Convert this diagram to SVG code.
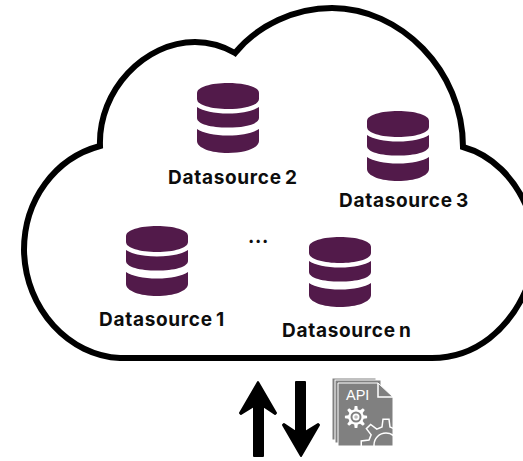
<svg xmlns="http://www.w3.org/2000/svg" width="523" height="461" viewBox="0 0 523 461">
<style>
.lbl{font-family:"Inter","Liberation Sans",sans-serif;font-weight:700;font-size:19px;letter-spacing:.7px;word-spacing:-2px;fill:#0d0d0d}
.db{fill:#521a4a}
.arrow{fill:#000;stroke:#000;stroke-width:2;stroke-linejoin:round}
.page{fill:#808080;stroke:#fff;stroke-width:1}
</style>
<defs>
<g id="dbicon">
<path class="db" d="M0 10C0 4 14 0 31 0S62 4 62 10V16C62 22 48 26 31 26S0 22 0 16Z"/>
<path class="db" d="M0 24C6 28 17 30.500 31 30.500S56 28 62 24V35C62 41 48 44.600 31 44.600S0 41 0 35Z"/>
<path class="db" d="M0 46C6 50 17 52.500 31 52.500S56 50 62 46V58C62 65 48 70 31 70S0 65 0 58Z"/>
</g>
<path id="gear" d="M-3.200-13.600L-2.400-19.800H2.400L3.200-13.600L7.350-11.880L12.300-15.700L15.700-12.300L11.880-7.350L13.600-3.200L19.800-2.400V2.400L13.600 3.200L11.880 7.350L15.700 12.300L12.300 15.700L7.350 11.880L3.200 13.600L2.400 19.800H-2.400L-3.200 13.600L-7.350 11.880L-12.300 15.700L-15.700 12.300L-11.880 7.350L-13.600 3.200L-19.800 2.400V-2.400L-13.600-3.200L-11.880-7.350L-15.700-12.300L-12.300-15.700L-7.350-11.880Z"/>
<clipPath id="pageclip"><path d="M338 383H378L393 397V446H338Z"/></clipPath>
</defs>
<g id="cloud">
<path fill="#fff" stroke="#000" stroke-width="6" stroke-linejoin="miter" d="M120 358C70 356 25 310 24 250C24 200 55 158 100 146C98 90 145 42 195 42C210 42 223 46 235 53C258 25 295 8 332 8C400 8 463 70 463 147C492 155 515 178 528 210V285C510 330 475 358 432 358Z"/>
</g>
<g id="datasource-2"><use href="#dbicon" x="197" y="83"/><text class="lbl" x="168" y="184">Datasource 2</text></g>
<g id="datasource-3"><use href="#dbicon" x="367" y="111"/><text class="lbl" x="339" y="207">Datasource 3</text></g>
<g id="datasource-1"><use href="#dbicon" x="126" y="226"/><text class="lbl" x="99" y="326">Datasource 1</text></g>
<g id="datasource-n"><use href="#dbicon" x="309" y="237"/><text class="lbl" x="282" y="337">Datasource n</text></g>
<text class="lbl" x="248" y="243">...</text>
<g id="connectors">
<path class="arrow" d="M258 382L276 413L275 414L263 406V456H254V406L241 414L240 413Z"/>
<path class="arrow" d="M301 456L283 425L284 424L296 432V382H305V432L318 424L319 425Z"/>
</g>
<g id="api-doc">
<rect class="page" x="332" y="378" width="44" height="62"/>
<rect class="page" x="335" y="380" width="46" height="63"/>
<path d="M338 383H378L393 397V446H338Z" fill="#808080" stroke="#fff" stroke-width="1"/>
<path d="M378 383V397H393" fill="none" stroke="#fff" stroke-width="1.500"/>
<text x="346" y="400" font-family="Liberation Sans,sans-serif" font-size="14.500" fill="#fff">API</text>
<use href="#gear" transform="translate(356 417) scale(.56)" fill="#fff"/>
<circle cx="356" cy="417" r="5.500" fill="#808080"/>
<circle cx="356" cy="417" r="3.500" fill="#fff"/>
<circle cx="356" cy="417" r="1.800" fill="#bbb"/>
<g clip-path="url(#pageclip)" fill="none" stroke="#fff" stroke-width="1.500">
<use href="#gear" transform="translate(386 444) scale(1.250)" stroke-width="1.200"/>
<circle cx="386" cy="445" r="12"/>
</g>
</g>
</svg>
